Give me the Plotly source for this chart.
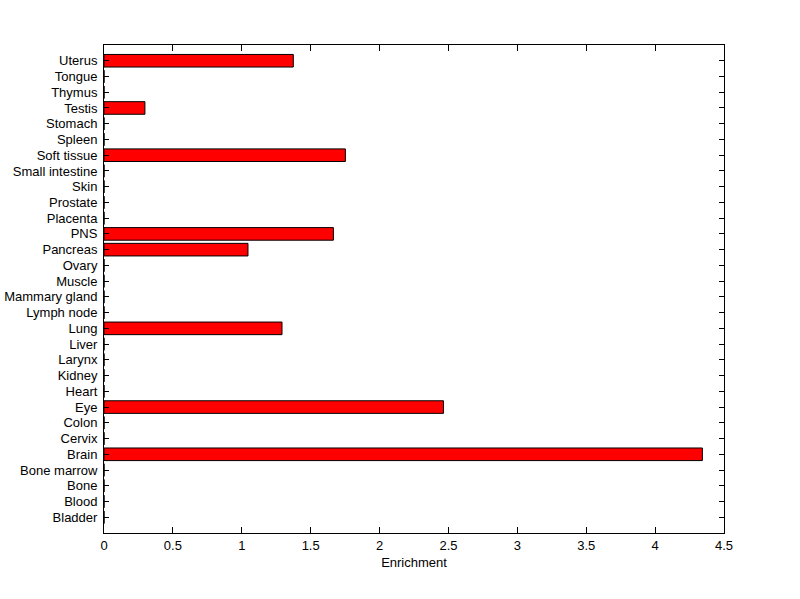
import plotly.graph_objects as go

tissues = ["Bladder", "Blood", "Bone", "Bone marrow", "Brain", "Cervix", "Colon", "Eye",
           "Heart", "Kidney", "Larynx", "Liver", "Lung", "Lymph node", "Mammary gland",
           "Muscle", "Ovary", "Pancreas", "PNS", "Placenta", "Prostate", "Skin",
           "Small intestine", "Soft tissue", "Spleen", "Stomach", "Testis", "Thymus",
           "Tongue", "Uterus"]
enrichment = [0, 0, 0, 0, 4.343, 0, 0, 2.464,
              0, 0, 0, 0, 1.292, 0, 0,
              0, 0, 1.045, 1.665, 0, 0, 0,
              0, 1.752, 0, 0, 0.297, 0,
              0, 1.374]
x_ticks = [0, 0.5, 1, 1.5, 2, 2.5, 3, 3.5, 4, 4.5]
x_tick_labels = ["0", "0.5", "1", "1.5", "2", "2.5", "3", "3.5", "4", "4.5"]

fig = go.Figure(go.Bar(
    x=enrichment, y=tissues, orientation="h", width=0.8,
    marker=dict(color="#ff0000", line=dict(color="black", width=1)),
))

font = dict(family="Liberation Sans, Arial, sans-serif", size=13, color="black")
fig.update_layout(
    width=800, height=599,
    margin=dict(l=104, r=76, t=45, b=66, autoexpand=False),
    paper_bgcolor="white", plot_bgcolor="white",
    font=font, showlegend=False,
    xaxis=dict(range=[0, 4.5], tickmode="array", tickvals=x_ticks, ticktext=x_tick_labels,
               ticks="inside", ticklen=6, tickcolor="black", tickwidth=1,
               showline=True, linecolor="black", linewidth=1, mirror="ticks",
               showgrid=False, zeroline=False, automargin=False,
               title=dict(text="Enrichment", font=font, standoff=6)),
    yaxis=dict(categoryorder="array", categoryarray=tissues, range=[-1, 30],
               tickmode="array", tickvals=tissues, ticktext=tissues,
               ticks="inside", ticklen=5, tickcolor="black", tickwidth=1,
               showline=True, linecolor="black", linewidth=1, mirror="ticks",
               showgrid=False, zeroline=False, ticklabelstandoff=3, automargin=False),
)
fig.write_html("out.html", config={"displayModeBar": False},
               post_script="document.body.style.margin='0';document.body.style.overflow='hidden';")
